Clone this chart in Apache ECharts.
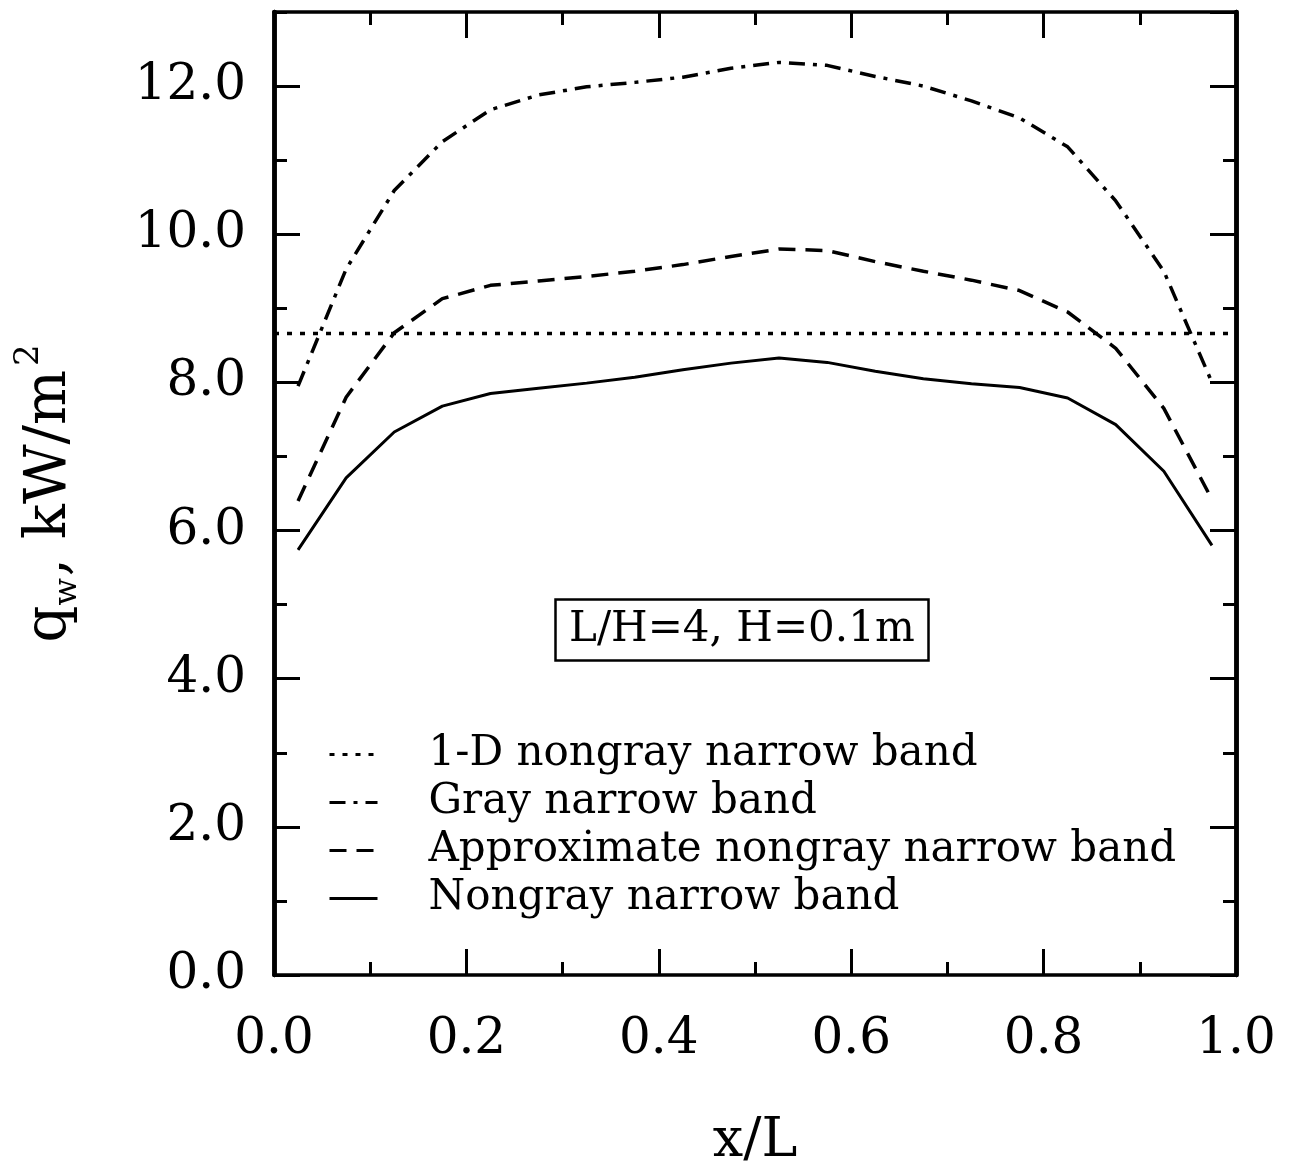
<!DOCTYPE html>
<html>
<head>
<meta charset="utf-8">
<script src="https://cdn.jsdelivr.net/npm/echarts@6/dist/echarts.min.js"></script>
<style>
html,body{margin:0;padding:0;background:#fff;}
#chart{width:1290px;height:1176px;}
</style>
</head>
<body>
<div id="chart"></div>
<script>
// x/L positions of the computed wall points
const xPoints = [0.025,0.075,0.125,0.175,0.225,0.275,0.325,0.375,0.425,0.475,
                 0.525,0.575,0.625,0.675,0.725,0.775,0.825,0.875,0.925,0.975];
// Nongray narrow band (solid)
const nongray = [5.74,6.71,7.33,7.68,7.85,7.92,7.99,8.07,8.17,8.26,
                 8.33,8.27,8.15,8.05,7.98,7.93,7.79,7.43,6.80,5.80];
// Approximate nongray narrow band (dashed)
const approxNongray = [6.40,7.80,8.67,9.13,9.31,9.37,9.43,9.50,9.59,9.70,
                       9.80,9.78,9.63,9.50,9.38,9.24,8.95,8.46,7.65,6.42];
// Gray narrow band (dash-dot)
const grayBand = [7.95,9.53,10.59,11.25,11.68,11.88,11.99,12.05,12.12,12.24,
                  12.32,12.28,12.13,12.00,11.80,11.57,11.18,10.45,9.50,8.00];
// 1-D nongray narrow band (dotted, constant)
const oneDx = [0, 1];
const oneD = [8.66, 8.66];

const seriesNames = ['1-D nongray narrow band','Gray narrow band','Approximate nongray narrow band','Nongray narrow band'];
const boxText = 'L/H=4, H=0.1m';

const zip = (xs, ys) => xs.map((x, i) => [x, ys[i]]);
const FONT = 'DejaVu Serif';
const black = '#000';

const chart = echarts.init(document.getElementById('chart'), null, {renderer: 'canvas'});

const frameAxisX = (pos, showLabel) => ({
  type: 'value', position: pos, min: 0, max: 1, interval: 0.2,
  axisLine: {show: true, onZero: false, lineStyle: {color: black, width: 3.5}},
  axisTick: {show: true, inside: true, length: 26, lineStyle: {color: black, width: 3}},
  minorTick: {show: true, splitNumber: 2, length: 13, lineStyle: {color: black, width: 3}},
  splitLine: {show: false},
  axisLabel: {show: showLabel, margin: 40, color: black, fontFamily: FONT, fontSize: 50,
              formatter: v => v.toFixed(1)},
  name: showLabel ? 'x/L' : '',
  nameLocation: 'middle', nameGap: 140,
  nameTextStyle: {color: black, fontFamily: FONT, fontSize: 54}
});

const frameAxisY = (pos, interval, len, showLabel, withName) => ({
  type: 'value', position: pos, min: 0, max: 13, interval: interval,
  axisLine: {show: true, onZero: false, lineStyle: {color: black, width: 4.5}},
  axisTick: {show: true, inside: true, length: len, lineStyle: {color: black, width: 3}},
  splitLine: {show: false},
  axisLabel: {show: showLabel, margin: 28, color: black, fontFamily: FONT, fontSize: 50,
              showMaxLabel: false, formatter: v => v.toFixed(1)},
  name: withName ? '{q|q}{sub|w}{n|, kW/m}{sup|2}' : '',
  nameLocation: 'middle', nameGap: 182, nameRotate: 90,
  nameTextStyle: {
    color: black, fontFamily: FONT, fontSize: 58,
    rich: {
      q: {fontFamily: FONT, fontSize: 58, color: black, lineHeight: 84, verticalAlign: 'middle'},
      sub: {fontFamily: FONT, fontSize: 32, color: black, lineHeight: 84, verticalAlign: 'bottom', padding: [0,2,8,0]},
      n: {fontFamily: FONT, fontSize: 58, color: black, lineHeight: 84, verticalAlign: 'middle'},
      sup: {fontFamily: FONT, fontSize: 34, color: black, lineHeight: 84, verticalAlign: 'top', padding: [4,0,0,4]}
    }
  }
});

const lineW = 3.5;

const option = {
  backgroundColor: '#fff',
  animation: false,
  grid: {left: 264, right: 54, top: 12, bottom: 201, containLabel: false},
  title: {
    text: boxText, left: 555, top: 599,
    padding: [10, 14, 10, 14],
    borderColor: black, borderWidth: 2.5,
    textStyle: {color: black, fontFamily: FONT, fontSize: 42, fontWeight: 'normal'}
  },
  legend: {
    orient: 'vertical', left: 323, top: 726,
    itemWidth: 48, itemHeight: 14, itemGap: 1,
    data: seriesNames,
    itemStyle: {opacity: 0, borderWidth: 0},
    lineStyle: {width: 3},
    textStyle: {color: black, fontFamily: FONT, fontSize: 42, lineHeight: 47, padding: [0,0,0,46]},
    selectedMode: false
  },
  xAxis: [frameAxisX('bottom', true), frameAxisX('top', false)],
  yAxis: [
    frameAxisY('left', 2, 26, true, true),
    frameAxisY('left', 1, 13, false, false),
    frameAxisY('right', 2, 26, false, false),
    frameAxisY('right', 1, 13, false, false)
  ],
  series: [
    {name: seriesNames[0], type: 'line', data: zip(oneDx, oneD), symbol: 'none',
     itemStyle: {color: black},
     lineStyle: {color: black, width: lineW, type: [5, 8]}},
    {name: seriesNames[1], type: 'line', data: zip(xPoints, grayBand), symbol: 'none',
     itemStyle: {color: black},
     lineStyle: {color: black, width: lineW, type: [16, 8, 4, 8]}},
    {name: seriesNames[2], type: 'line', data: zip(xPoints, approxNongray), symbol: 'none',
     itemStyle: {color: black},
     lineStyle: {color: black, width: lineW, type: [17, 10]}},
    {name: seriesNames[3], type: 'line', data: zip(xPoints, nongray), symbol: 'none',
     itemStyle: {color: black},
     lineStyle: {color: black, width: 3}}
  ]
};
chart.setOption(option);
</script>
</body>
</html>
